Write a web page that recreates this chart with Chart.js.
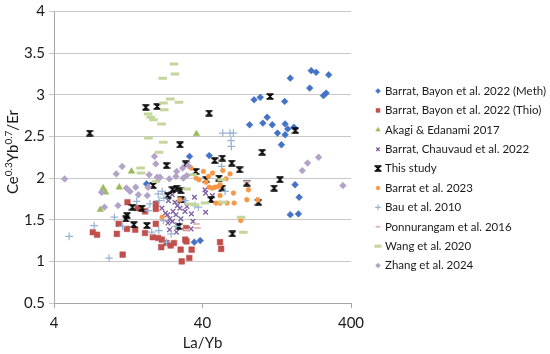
<!DOCTYPE html>
<html lang="en">
<head>
<meta charset="UTF-8">
<title>Ce/Er vs La/Yb</title>
<script src="https://cdn.jsdelivr.net/npm/chart.js"></script>
<style>
  body { margin: 0; background: #fff; }
  #wrap { position: relative; width: 550px; height: 354px; }
</style>
</head>
<body>
<div id="wrap"><canvas id="chart" width="550" height="354"></canvas></div>
<script>
// axis ticks
const xTicks = [4, 40, 400];
const yTicks = [0.5, 1, 1.5, 2, 2.5, 3, 3.5, 4];

// Barrat, Bayon et al. 2022 (Meth)
const methX = [216, 233, 283, 156, 211, 261, 272, 89, 98, 143, 109, 83, 102, 118, 144, 150, 165, 128, 144, 136, 32.7, 44.4, 16.8, 168, 179, 156, 177, 35.2, 38.6];
const methY = [3.29, 3.27, 3.24, 3.20, 3.08, 2.99, 3.02, 2.94, 2.97, 2.92, 2.73, 2.64, 2.66, 2.64, 2.65, 2.59, 2.61, 2.54, 2.52, 2.40, 2.26, 2.27, 1.93, 1.92, 1.77, 1.56, 1.57, 1.23, 1.25];
// Barrat, Bayon et al. 2022 (Thio)
const thioX = [7.3, 7.8, 10.6, 10.9, 11.6, 12.5, 12.4, 14.1, 14.7, 16.4, 16.4, 19.4, 19.4, 19.4, 18.5, 20.1, 21.3, 21.1, 22.9, 24.4, 25.7, 28.5, 29.0, 31.0, 30.6, 31.2, 33.8, 32.6, 52.5, 53.4];
const thioY = [1.35, 1.32, 1.33, 1.45, 1.08, 1.71, 1.39, 1.38, 1.64, 1.60, 1.34, 1.69, 1.63, 1.45, 1.29, 1.28, 1.26, 1.17, 1.22, 1.19, 1.22, 1.14, 1.00, 1.40, 1.26, 1.24, 1.14, 1.04, 1.23, 1.15];
// Akagi & Edanami 2017
const akagiX = [8.57, 8.9, 8.2, 11.0, 13.3, 36.4];
const akagiY = [1.88, 1.83, 1.62, 1.89, 2.08, 2.53];
// Barrat, Chauvaud et al. 2022
const chauX = [21.3, 22.5, 23.2, 24.1, 25.1, 23.4, 26.1, 28.2, 23.6, 27.1, 25.3, 26.5, 24.0, 26.7, 33.7, 34.5, 35.3, 33.5, 41.6, 42.0, 46.6, 42.0, 30.0, 31.4, 28.6, 27.3, 30.5, 25.0];
const chauY = [1.64, 1.58, 1.56, 1.51, 1.48, 1.46, 1.71, 1.64, 1.73, 1.67, 1.60, 1.56, 1.38, 1.35, 1.57, 1.48, 1.77, 1.39, 1.86, 1.82, 1.79, 1.59, 1.73, 1.66, 1.51, 1.44, 1.60, 1.80];
// This study
const studyX = [6.96, 16.6, 19.8, 28.2, 22.9, 30.8, 36.0, 44.3, 114, 169, 101, 48.3, 54.4, 63, 71, 51.7, 42.4, 133, 79.5, 121.5, 54.3, 95.2, 45.6, 63.6, 18.6, 23.3, 25.1, 26.8, 28.6, 28.8, 13.5, 15.7, 12.4, 13.8, 16.9, 27.6, 12.2];
const studyY = [2.54, 2.85, 2.86, 2.40, 2.15, 2.17, 2.08, 2.78, 2.98, 2.57, 2.31, 2.21, 2.24, 2.18, 2.10, 2.00, 1.98, 1.98, 1.94, 1.88, 1.88, 1.71, 1.74, 1.33, 1.91, 1.79, 1.86, 1.88, 1.85, 1.74, 1.65, 1.64, 1.55, 1.44, 1.43, 1.42, 1.51];
// Barrat et al. 2023
const b23X = [33.5, 40.6, 46.7, 61.3, 36.2, 37.9, 43.9, 52.5, 44.3, 46.4, 48.6, 51.3, 64.6, 52.5, 49.3, 52.5, 58.5, 65.3, 79.5, 94.3, 81.5, 72.4, 28.2, 21.4, 54.8, 57.6, 42.2];
const b23Y = [2.12, 2.08, 2.06, 2.05, 2.00, 1.98, 2.02, 1.92, 1.89, 1.88, 1.89, 1.90, 1.82, 1.79, 1.70, 1.70, 1.70, 1.70, 1.74, 1.74, 1.86, 1.49, 1.74, 1.53, 2.09, 1.99, 1.95];
// Bau et al. 2010
const bauX = [5.06, 7.45, 9.39, 10.2, 11.6, 14.4, 17.2, 17.7, 20.1, 20.4, 21.4, 22.0, 18.2, 20.3, 21.8, 24.6, 22.9, 26.5, 30.5, 35.6, 37.5, 54.8, 61.3, 64.6, 62.3, 62.6, 53.9, 56.8];
const bauY = [1.30, 1.43, 1.04, 1.53, 1.42, 1.72, 1.61, 1.69, 1.81, 1.73, 1.84, 1.76, 1.35, 1.37, 1.49, 1.33, 1.23, 1.42, 1.73, 1.67, 1.65, 2.54, 2.54, 2.54, 2.45, 2.38, 2.14, 1.84];
// Ponnurangam et al. 2016
const ponX = [36.4, 37.0, 79.5, 31.4];
const ponY = [1.45, 1.40, 1.96, 1.38];
// Wang et al. 2020
const wangX = [25.7, 26.1, 21.6, 24.3, 27.8, 21.8, 22.1, 17.2, 17.9, 18.7, 21.2, 17.3, 21.8, 20.4, 15.3, 15.4, 34.4, 19.4, 31.3, 32.6, 41.6, 54.8, 53.9, 72.8, 75.4, 35.6];
const wangY = [3.37, 3.25, 3.20, 2.95, 2.91, 2.90, 2.82, 2.77, 2.73, 2.70, 2.65, 2.48, 2.43, 2.31, 2.12, 2.06, 2.04, 1.96, 1.87, 1.69, 1.70, 1.71, 1.98, 1.53, 1.35, 1.68];
// Zhang et al. 2024
const zhangX = [4.72, 10.5, 11.5, 19.0, 19.4, 17.5, 19.8, 23.9, 26.8, 29.4, 32.1, 31.3, 8.36, 8.75, 10.8, 13.0, 14.2, 14.8, 17.2, 12.3, 17.0, 20.7, 26.5, 29.7, 188, 204, 242, 353];
const zhangY = [1.99, 2.05, 2.14, 2.26, 2.17, 2.04, 2.01, 1.99, 2.08, 2.12, 2.15, 2.03, 1.83, 1.65, 1.67, 1.84, 1.89, 1.80, 1.89, 1.88, 1.79, 2.01, 2.02, 2.00, 2.09, 2.18, 2.25, 1.91];

// marker for "This study": x with bars
const studyMark = document.createElement('canvas');
studyMark.width = 8; studyMark.height = 7;
(function () {
  const m = studyMark.getContext('2d');
  m.strokeStyle = '#000';
  m.lineWidth = 1.5;
  m.beginPath();
  m.moveTo(1.5, 1); m.lineTo(6.5, 6);
  m.moveTo(6.5, 1); m.lineTo(1.5, 6);
  m.moveTo(0.5, 1); m.lineTo(7.5, 1);
  m.moveTo(0.5, 6); m.lineTo(7.5, 6);
  m.stroke();
})();

function pts(xs, ys) {
  return xs.map((x, i) => ({ x: x, y: ys[i] }));
}

function series(i, label, xs, ys, style, r, color, bw, legR) {
  return {
    label: label,
    data: pts(xs, ys),
    order: 9 - i,
    pointStyle: style,
    pointRadius: r,
    pointHoverRadius: r,
    pointBackgroundColor: color,
    pointBorderColor: color,
    pointBorderWidth: bw,
    backgroundColor: color,
    borderColor: color,
    borderWidth: bw,
    legR: legR
  };
}

const datasets = [
  series(0, 'Barrat, Bayon et al. 2022 (Meth)', methX, methY, 'rectRot', 3.4, '#4472C4', 0.5, 2.5),
  series(1, 'Barrat, Bayon et al. 2022 (Thio)', thioX, thioY, 'rect', 4, '#C0504D', 0.5, 2.8),
  series(2, 'Akagi & Edanami 2017', akagiX, akagiY, 'triangle', 3.8, '#9BBB59', 0.5, 2.6),
  series(3, 'Barrat, Chauvaud et al. 2022', chauX, chauY, 'crossRot', 3.3, '#8064A2', 1.4, 2.4),
  series(4, 'This study', studyX, studyY, studyMark, 4, '#000', 1, 3),
  series(5, 'Barrat et al. 2023', b23X, b23Y, 'circle', 2.4, '#F79646', 0.5, 1.9),
  series(6, 'Bau et al. 2010', bauX, bauY, 'cross', 3.8, '#95B3D7', 1.2, 2.8),
  series(7, 'Ponnurangam et al. 2016', ponX, ponY, 'line', 3.3, '#E6B9B8', 2, 2.4),
  series(8, 'Wang et al. 2020', wangX, wangY, 'line', 4.3, '#C3D69B', 3, 3.6),
  series(9, 'Zhang et al. 2024', zhangX, zhangY, 'rectRot', 3.4, '#B3A2C7', 0.5, 2.5)
];

const FONT = 'Lato';

const extras = {
  id: 'extras',
  afterDraw(chart) {
    const ctx = chart.ctx;
    ctx.save();
    // legend
    ctx.font = '11.5px ' + FONT;
    ctx.textBaseline = 'middle';
    ctx.textAlign = 'left';
    chart.data.datasets.forEach((ds, i) => {
      const y = 91 + i * 19.4;
      ctx.fillStyle = ds.backgroundColor;
      ctx.strokeStyle = ds.borderColor;
      ctx.lineWidth = ds.borderWidth;
      Chart.helpers.drawPoint(ctx, { pointStyle: ds.pointStyle, radius: ds.legR, rotation: 0, borderWidth: ds.borderWidth }, 378, y);
      ctx.fillStyle = '#1a1a1a';
      ctx.fillText(ds.label, 385, y);
    });
    // y axis title with superscripts
    const parts = [['Ce', 0], ['0.3', 1], ['Yb', 0], ['0.7', 1], ['/Er', 0]];
    const big = '15px ' + FONT, small = '10px ' + FONT;
    let total = 0;
    parts.forEach(p => { ctx.font = p[1] ? small : big; total += ctx.measureText(p[0]).width; });
    ctx.translate(13, 152);
    ctx.rotate(-Math.PI / 2);
    ctx.textBaseline = 'alphabetic';
    ctx.fillStyle = '#1a1a1a';
    let x = -total / 2;
    parts.forEach(p => {
      ctx.font = p[1] ? small : big;
      ctx.fillText(p[0], x, p[1] ? -1 : 5);
      x += ctx.measureText(p[0]).width;
    });
    ctx.restore();
  }
};

new Chart(document.getElementById('chart'), {
  type: 'scatter',
  data: { datasets: datasets },
  options: {
    responsive: false,
    animation: false,
    devicePixelRatio: 1,
    layout: { padding: { top: 7.5, right: 199, left: 0, bottom: 0 } },
    plugins: { legend: { display: false }, tooltip: { enabled: false } },
    scales: {
      x: {
        type: 'logarithmic',
        min: 4,
        max: 400,
        afterBuildTicks: s => { s.ticks = xTicks.map(v => ({ value: v })); },
        afterFit: s => { s.height = 51; },
        ticks: {
          font: { family: FONT, size: 15, lineHeight: 1 },
          color: '#1a1a1a',
          padding: 8,
          maxRotation: 0,
          autoSkip: false,
          callback: v => String(v)
        },
        grid: { drawOnChartArea: false, drawTicks: true, tickLength: 5, color: '#A6A6A6' },
        border: { color: '#A6A6A6' },
        title: { display: true, text: 'La/Yb', font: { family: FONT, size: 15 }, color: '#1a1a1a', padding: { top: 0, bottom: 2 } }
      },
      y: {
        min: 0.5,
        max: 4,
        afterBuildTicks: s => { s.ticks = yTicks.map(v => ({ value: v })); },
        afterFit: s => { s.width = 54; },
        ticks: {
          font: { family: FONT, size: 15, lineHeight: 1 },
          color: '#1a1a1a',
          padding: 4,
          callback: v => String(v)
        },
        grid: { color: '#C8C8C8', tickLength: 5 },
        border: { color: '#A6A6A6' }
      }
    }
  },
  plugins: [extras]
});
</script>
</body>
</html>
